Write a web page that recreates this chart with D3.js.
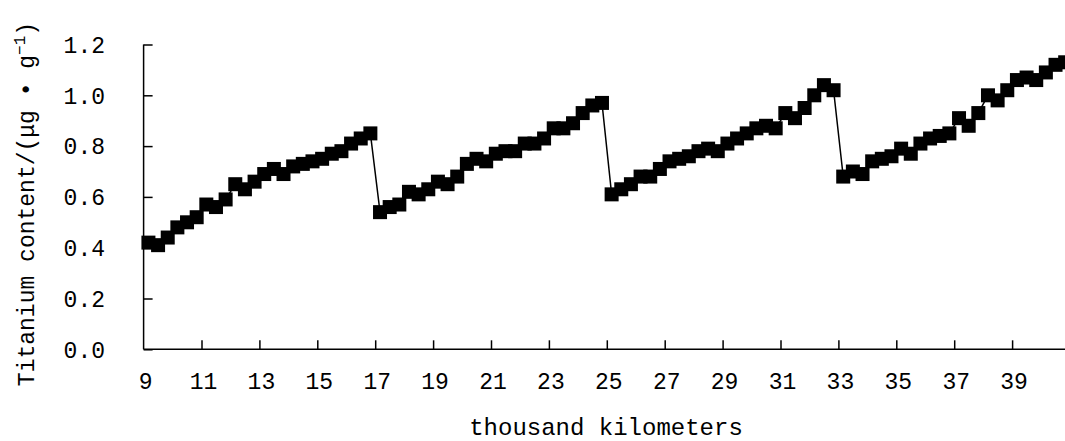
<!DOCTYPE html>
<html>
<head>
<meta charset="utf-8">
<script src="https://cdn.jsdelivr.net/npm/d3@7"></script>
<style>
  html, body { margin: 0; padding: 0; background: #fff; }
  svg { display: block; }
  text { font-family: "Liberation Mono", "DejaVu Sans Mono", monospace; fill: #000; }
</style>
</head>
<body>
<svg id="chart" width="1065" height="441"></svg>
<script>
// ---- data ----
const segment1 = [0.42, 0.41, 0.44, 0.48, 0.50, 0.52, 0.57, 0.56, 0.59, 0.65, 0.63, 0.66, 0.69, 0.71, 0.69, 0.72, 0.73, 0.74, 0.75, 0.77, 0.78, 0.81, 0.83, 0.85];
const segment2 = [0.54, 0.56, 0.57, 0.62, 0.61, 0.63, 0.66, 0.65, 0.68, 0.73, 0.75, 0.74, 0.77, 0.78, 0.78, 0.81, 0.81, 0.83, 0.87, 0.87, 0.89, 0.93, 0.96, 0.97];
const segment3 = [0.61, 0.63, 0.65, 0.68, 0.68, 0.71, 0.74, 0.75, 0.76, 0.78, 0.79, 0.78, 0.81, 0.83, 0.85, 0.87, 0.88, 0.87, 0.93, 0.91, 0.95, 1.00, 1.04, 1.02];
const segment4 = [0.68, 0.70, 0.69, 0.74, 0.75, 0.76, 0.79, 0.77, 0.81, 0.83, 0.84, 0.85, 0.91, 0.88, 0.93, 1.00, 0.98, 1.02, 1.06, 1.07, 1.06, 1.09, 1.12, 1.13];
const titanium = [].concat(segment1, segment2, segment3, segment4);
const pointsPerThousandKm = 3;          // one sample every 1/3 thousand km
const xStart = 9, xEnd = 41;
const xTickValues = [11, 13, 15, 17, 19, 21, 23, 25, 27, 29, 31, 33, 35, 37, 39];
const xTickLabels = [9, 11, 13, 15, 17, 19, 21, 23, 25, 27, 29, 31, 33, 35, 37, 39];
const yTickValues = [0, 0.2, 0.4, 0.6, 0.8, 1.0, 1.2];
const xTitle = "thousand kilometers";

// ---- layout ----
const svg = d3.select("#chart");
const x = d3.scaleLinear().domain([xStart, xEnd]).range([143.6, 1070]);
const y = d3.scaleLinear().domain([0, 1.2]).range([349.3, 44.5]);

const data = titanium.map((v, i) => ({ km: xStart + (i + 0.5) / pointsPerThousandKm, v }));

// axes
const yAxis = svg.append("g").attr("transform", `translate(${x(xStart)},0)`)
  .call(d3.axisRight(y).tickValues(yTickValues).tickSize(9).tickFormat(""));
yAxis.select(".domain").attr("d", `M0,${y(1.2)}V${y(0)}`);
const xAxis = svg.append("g").attr("transform", `translate(0,${y(0)})`)
  .call(d3.axisTop(x).tickValues(xTickValues).tickSize(9).tickFormat(""));
xAxis.select(".domain").attr("d", `M${x(xStart)},0H${x(xEnd)}`);
svg.selectAll(".domain, .tick line").attr("stroke", "#000").attr("stroke-width", 1.5);

// y tick labels
svg.append("g").selectAll("text").data(yTickValues).join("text")
  .attr("x", 105).attr("y", d => y(d)).attr("dy", "0.36em")
  .attr("text-anchor", "end").attr("font-size", 23)
  .text(d => d3.format(".1f")(d));

// x tick labels
svg.append("g").selectAll("text").data(xTickLabels).join("text")
  .attr("x", d => x(d) + 2).attr("y", 389)
  .attr("text-anchor", "middle").attr("font-size", 23)
  .text(d => d);

// x title
svg.append("text").attr("x", 606).attr("y", 435).attr("text-anchor", "middle")
  .attr("font-size", 24).text(xTitle);

// y title
const yt = svg.append("text").attr("transform", "translate(34,204) rotate(-90)")
  .attr("text-anchor", "middle").attr("font-size", 23);
yt.append("tspan").text("Titanium content/(μg • g");
yt.append("tspan").attr("baseline-shift", "super").attr("font-size", 16).text("−1");
yt.append("tspan").text(")");

// line
svg.append("path").datum(data)
  .attr("fill", "none").attr("stroke", "#000").attr("stroke-width", 1.5)
  .attr("d", d3.line().x(d => x(d.km)).y(d => y(d.v)));

// square markers
const m = 14;
svg.append("g").selectAll("rect").data(data).join("rect")
  .attr("x", d => x(d.km) - m / 2).attr("y", d => y(d.v) - m / 2)
  .attr("width", m).attr("height", m).attr("fill", "#000");
</script>
</body>
</html>
